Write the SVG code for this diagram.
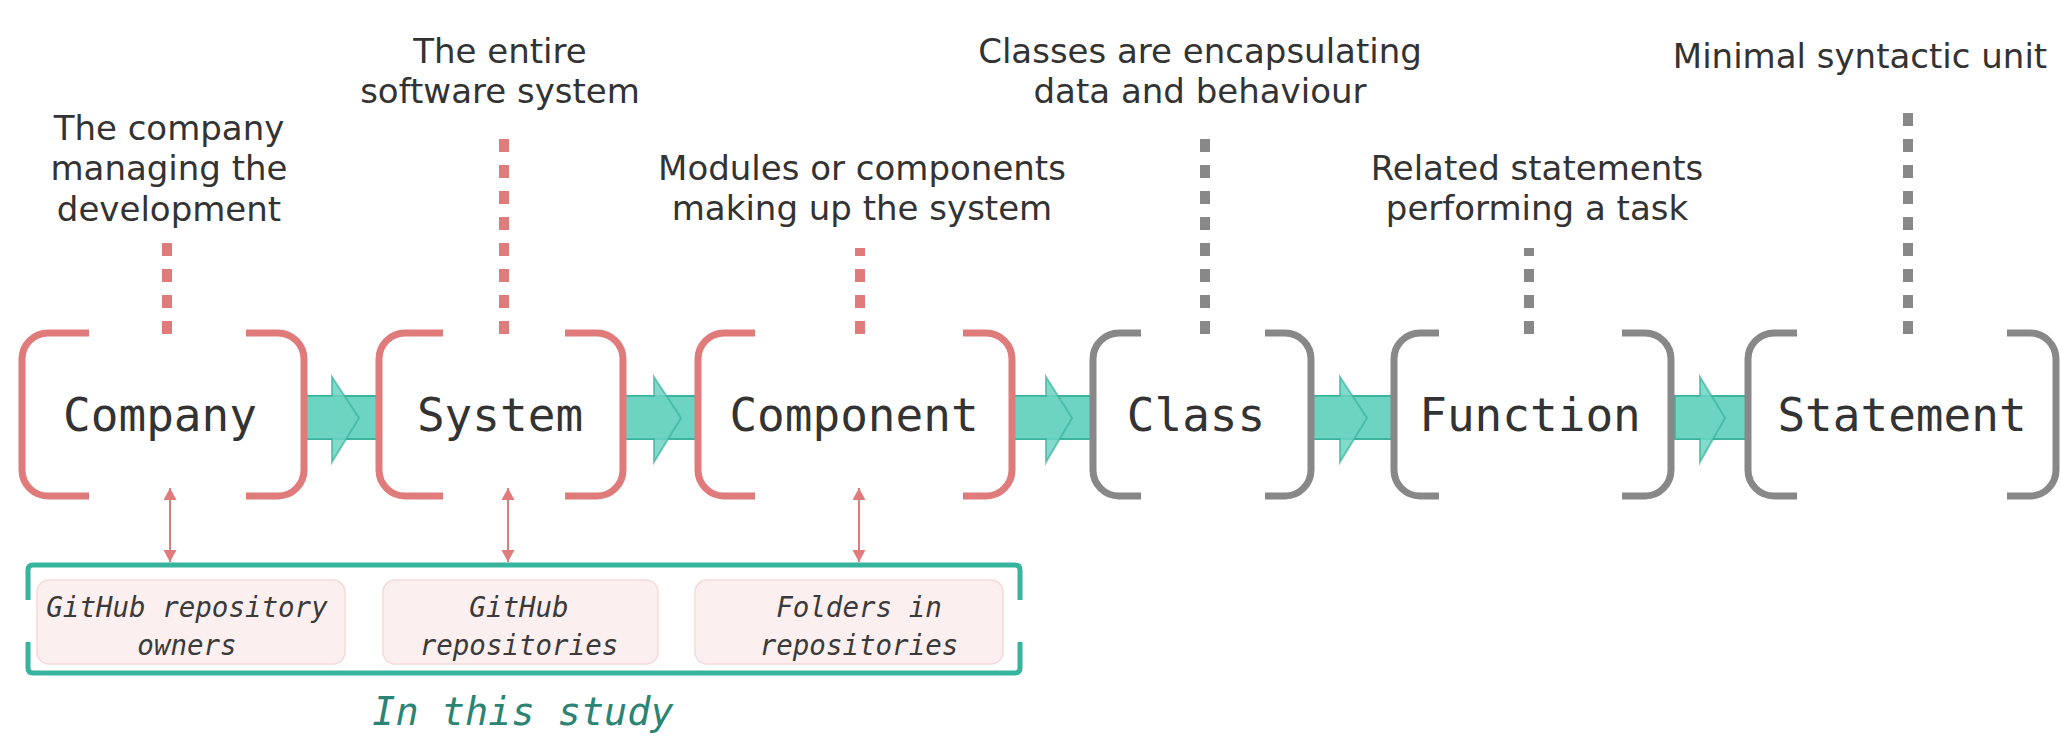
<svg xmlns="http://www.w3.org/2000/svg" width="2061" height="741" viewBox="0 0 2061 741">
<style>
  .desc{font-family:"DejaVu Sans",Verdana,sans-serif;font-size:34px;fill:#333;text-anchor:middle}
  .label{font-family:"DejaVu Sans Mono","Liberation Mono",monospace;font-size:46px;fill:#333;text-anchor:middle}
  .repo{font-family:"DejaVu Sans Mono","Liberation Mono",monospace;font-style:italic;font-size:27.5px;fill:#3a3a3a;text-anchor:middle}
  .study{font-family:"DejaVu Sans Mono","Liberation Mono",monospace;font-style:italic;font-size:38.5px;fill:#2b8474;text-anchor:middle}
  .brR{fill:none;stroke:#e07b7b;stroke-width:7}
  .brG{fill:none;stroke:#888;stroke-width:7}
  .dashR{stroke:#e07b7b;stroke-width:10;stroke-dasharray:13 13}
  .dashG{stroke:#888;stroke-width:10;stroke-dasharray:13 13}
  .shaft{fill:#6dd3c2;stroke:#3bb39e;stroke-width:2}
  .head{fill:#6dd3c2;fill-opacity:0.85;stroke:#3bb39e;stroke-width:2;stroke-opacity:0.7}
  .dbl{stroke:#e07b7b;stroke-width:2}
  .pink{fill:#fcefef;stroke:#f3dada;stroke-width:1.5}
  .study-br{fill:none;stroke:#37b49e;stroke-width:5}
</style>
<defs>
  <marker id="ah" markerUnits="userSpaceOnUse" markerWidth="12" markerHeight="13" viewBox="0 0 12 13" refX="12" refY="6.5" orient="auto-start-reverse">
    <path d="M0,0 L12,6.5 L0,13 z" fill="#e07b7b"/>
  </marker>
</defs>
<rect width="2061" height="741" fill="#fff"/>

<g id="connectors">
  <rect class="shaft" x="304" y="396" width="75" height="43"/>
  <path class="head" d="M304,396 H332 V377 L359,418 L332,462 V439 H304 Z"/>
  <rect class="shaft" x="625" y="396" width="73" height="43"/>
  <path class="head" d="M625,396 H654 V377 L681,418 L654,462 V439 H625 Z"/>
  <rect class="shaft" x="1014" y="396" width="78" height="43"/>
  <path class="head" d="M1014,396 H1046 V377 L1072,418 L1046,462 V439 H1014 Z"/>
  <rect class="shaft" x="1313" y="396" width="80" height="43"/>
  <path class="head" d="M1313,396 H1340 V377 L1367,418 L1340,462 V439 H1313 Z"/>
  <rect class="shaft" x="1675" y="396" width="71" height="43"/>
  <path class="head" d="M1675,396 H1700 V377 L1725,418 L1700,462 V439 H1675 Z"/>
  <line class="dashR" x1="167" y1="334" x2="167" y2="243"/>
  <line class="dashR" x1="504" y1="334" x2="504" y2="138"/>
  <line class="dashR" x1="860" y1="334" x2="860" y2="248"/>
  <line class="dashG" x1="1205" y1="334" x2="1205" y2="137"/>
  <line class="dashG" x1="1529" y1="334" x2="1529" y2="248"/>
  <line class="dashG" x1="1908" y1="334" x2="1908" y2="108"/>
  <line class="dbl" x1="170" y1="488" x2="170" y2="562" marker-start="url(#ah)" marker-end="url(#ah)"/>
  <line class="dbl" x1="508" y1="488" x2="508" y2="562" marker-start="url(#ah)" marker-end="url(#ah)"/>
  <line class="dbl" x1="859" y1="488" x2="859" y2="562" marker-start="url(#ah)" marker-end="url(#ah)"/>
</g>

<g id="desc-company">
  <text class="desc" x="169" y="140">The company</text>
  <text class="desc" x="169" y="180">managing the</text>
  <text class="desc" x="169" y="221">development</text>
</g>
<g id="desc-system">
  <text class="desc" x="500" y="63">The entire</text>
  <text class="desc" x="500" y="103">software system</text>
</g>
<g id="desc-component">
  <text class="desc" x="862" y="180">Modules or components</text>
  <text class="desc" x="862" y="220">making up the system</text>
</g>
<g id="desc-class">
  <text class="desc" x="1200" y="63">Classes are encapsulating</text>
  <text class="desc" x="1200" y="103">data and behaviour</text>
</g>
<g id="desc-function">
  <text class="desc" x="1537" y="180">Related statements</text>
  <text class="desc" x="1537" y="220">performing a task</text>
</g>
<g id="desc-statement">
  <text class="desc" x="1860" y="68">Minimal syntactic unit</text>
</g>

<g id="company">
  <path class="brR" d="M89,333 H48 A26,26 0 0 0 22,359 V470 A26,26 0 0 0 48,496 H89"/>
  <path class="brR" d="M246,333 H278 A26,26 0 0 1 304,359 V470 A26,26 0 0 1 278,496 H246"/>
  <text class="label" x="160" y="431">Company</text>
</g>
<g id="system">
  <path class="brR" d="M443,333 H405 A26,26 0 0 0 379,359 V470 A26,26 0 0 0 405,496 H443"/>
  <path class="brR" d="M565,333 H597 A26,26 0 0 1 623,359 V470 A26,26 0 0 1 597,496 H565"/>
  <text class="label" x="500" y="431">System</text>
</g>
<g id="component">
  <path class="brR" d="M755,333 H724 A26,26 0 0 0 698,359 V470 A26,26 0 0 0 724,496 H755"/>
  <path class="brR" d="M963,333 H986 A26,26 0 0 1 1012,359 V470 A26,26 0 0 1 986,496 H963"/>
  <text class="label" x="854" y="431">Component</text>
</g>
<g id="class">
  <path class="brG" d="M1141,333 H1119 A26,26 0 0 0 1093,359 V470 A26,26 0 0 0 1119,496 H1141"/>
  <path class="brG" d="M1265,333 H1285 A26,26 0 0 1 1311,359 V470 A26,26 0 0 1 1285,496 H1265"/>
  <text class="label" x="1196" y="431">Class</text>
</g>
<g id="function">
  <path class="brG" d="M1439,333 H1420 A26,26 0 0 0 1394,359 V470 A26,26 0 0 0 1420,496 H1439"/>
  <path class="brG" d="M1622,333 H1645 A26,26 0 0 1 1671,359 V470 A26,26 0 0 1 1645,496 H1622"/>
  <text class="label" x="1530" y="431">Function</text>
</g>
<g id="statement">
  <path class="brG" d="M1797,333 H1774 A26,26 0 0 0 1748,359 V470 A26,26 0 0 0 1774,496 H1797"/>
  <path class="brG" d="M2007,333 H2030 A26,26 0 0 1 2056,359 V470 A26,26 0 0 1 2030,496 H2007"/>
  <text class="label" x="1902" y="431">Statement</text>
</g>

<g id="in-this-study">
  <path class="study-br" d="M28,600 V570 Q28,565 33,565 H1015 Q1020,565 1020,570 V600 M28,642 V668 Q28,673 33,673 H1015 Q1020,673 1020,668 V642"/>
  <text class="study" x="523" y="725">In this study</text>
</g>
<g id="repo-owners">
  <rect class="pink" x="37" y="580" width="308" height="84" rx="12"/>
  <text class="repo" x="187" y="617">GitHub repository</text>
  <text class="repo" x="187" y="655">owners</text>
</g>
<g id="repos">
  <rect class="pink" x="383" y="580" width="275" height="84" rx="12"/>
  <text class="repo" x="519" y="617">GitHub</text>
  <text class="repo" x="519" y="655">repositories</text>
</g>
<g id="folders">
  <rect class="pink" x="695" y="580" width="308" height="84" rx="12"/>
  <text class="repo" x="859" y="617">Folders in</text>
  <text class="repo" x="859" y="655">repositories</text>
</g>
</svg>
